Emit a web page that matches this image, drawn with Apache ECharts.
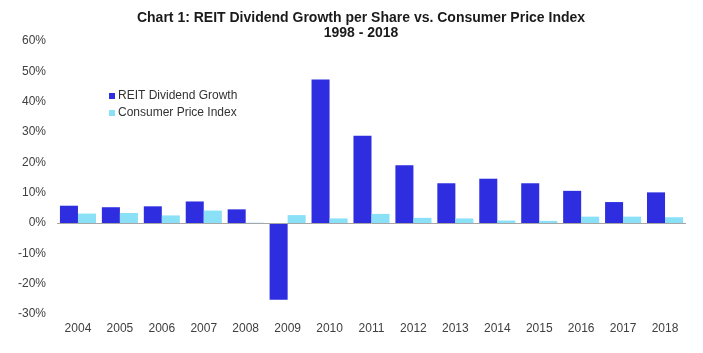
<!DOCTYPE html>
<html>
<head>
	<meta charset="utf-8">
	<title>REIT Dividend Growth vs CPI</title>
	<script src="https://cdn.jsdelivr.net/npm/echarts@6/dist/echarts.min.js"></script>
</head>
<body style="margin:0;background:#fff;">
	<div style="width:703px;height:353px;" id="chart1"></div>
	<script type="text/javascript">
    var years = ['2004','2005','2006','2007','2008','2009','2010','2011','2012','2013','2014','2015','2016','2017','2018'];
    var reitGrowth = [5.7, 5.2, 5.5, 7.1, 4.5, -25.3, 47.3, 28.8, 19.0, 13.1, 14.6, 13.1, 10.6, 6.9, 10.1];
    var cpi = [3.1, 3.3, 2.5, 4.1, 0.1, 2.6, 1.5, 3.0, 1.7, 1.5, 0.8, 0.7, 2.1, 2.1, 1.9];

    var dom = document.getElementById('chart1');
    var myChart = echarts.init(dom);
    var option = {
        animation: false,
        title: {
            text: 'Chart 1: REIT Dividend Growth per Share vs. Consumer Price Index\n1998 - 2018',
            left: 356,
            textAlign: 'center',
            top: 6,
            textStyle: {
                fontFamily: 'Liberation Sans',
                fontWeight: 'bold',
                fontSize: 14,
                lineHeight: 15,
                color: '#1a1a1a'
            }
        },
        legend: {
            orient: 'vertical',
            left: 104,
            top: 85,
            itemWidth: 6,
            itemHeight: 6,
            itemGap: 5,
            icon: 'rect',
            textStyle: {fontFamily: 'Liberation Sans', fontSize: 12, color: '#333', padding: [0,0,0,-2]},
            data: ['REIT Dividend Growth', 'Consumer Price Index']
        },
        grid: {left: 57, right: 17, top: 41, bottom: 39},
        xAxis: {
            type: 'category',
            data: years,
            axisLine: {show: false, onZero: false},
            axisTick: {show: false},
            axisLabel: {fontFamily: 'Liberation Sans', fontSize: 12, color: '#404040', margin: 9}
        },
        yAxis: {
            type: 'value',
            min: -30,
            max: 60,
            interval: 10,
            splitLine: {show: false},
            axisLine: {show: false},
            axisTick: {show: false},
            axisLabel: {formatter: '{value}%', fontFamily: 'Liberation Sans', fontSize: 12, color: '#404040', margin: 11}
        },
        series: [
            {
                name: 'REIT Dividend Growth',
                type: 'bar',
                barGap: '0%',
                barCategoryGap: '14%',
                itemStyle: {color: '#2e2ee0'},
                data: reitGrowth,
                markLine: {
                    silent: true,
                    symbol: 'none',
                    label: {show: false},
                    lineStyle: {color: '#a6a6a6', type: 'solid', width: 1},
                    data: [{yAxis: 0}]
                }
            },
            {
                name: 'Consumer Price Index',
                type: 'bar',
                itemStyle: {color: '#8ae0f6'},
                data: cpi
            }
        ]
    };
    myChart.setOption(option, true);
	</script>
</body>
</html>
